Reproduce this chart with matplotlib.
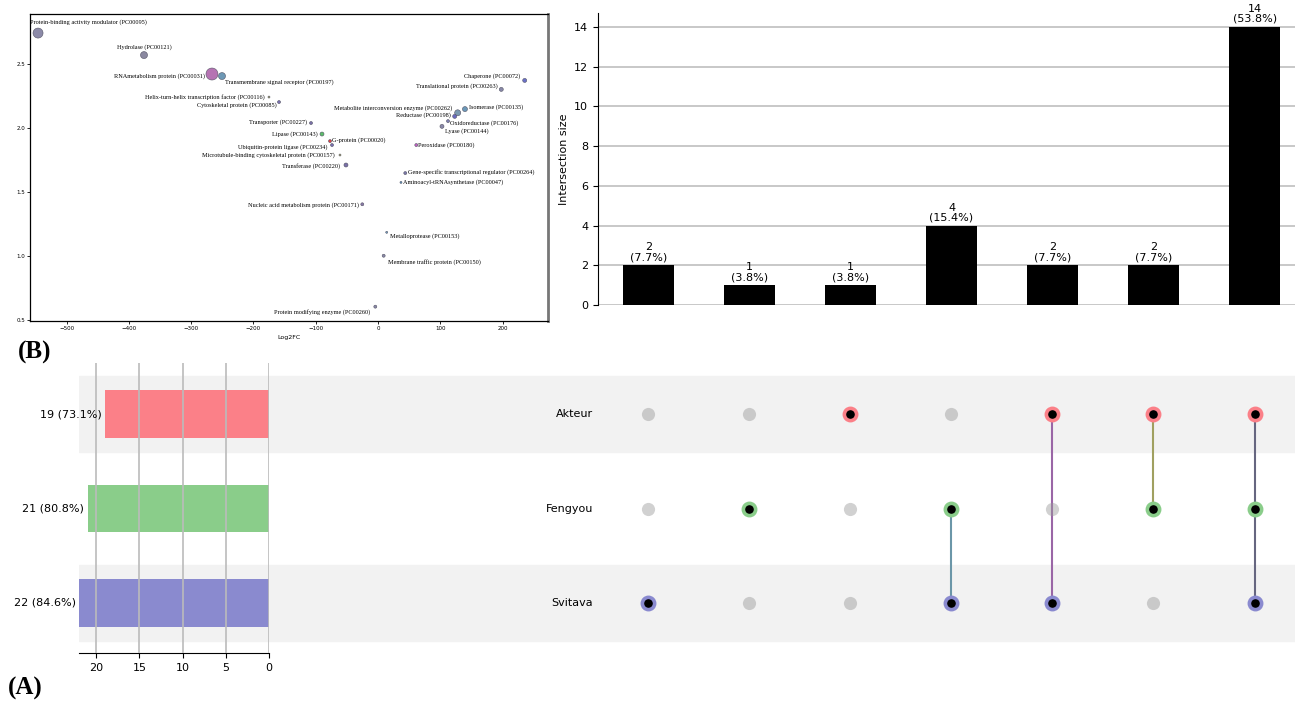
#!/usr/bin/env python3
# -*- coding: utf-8 -*-

import matplotlib
matplotlib.use('Agg')
import matplotlib.pyplot as plt
from matplotlib.patches import Rectangle

W, H = 1295, 702

# ---- scatter panel (protein classes) ----
names = ['Protein-binding activity modulator (PC00095)', 'Hydrolase (PC00121)',
         'RNAmetabolism protein (PC00031)', 'Transmembrane signal receptor (PC00197)',
         'Helix-turn-helix transcription factor (PC00116)', 'Cytoskeletal protein (PC00085)',
         'Transporter (PC00227)', 'Lipase (PC00143)', 'G-protein (PC00020)',
         'Ubiquitin-protein ligase (PC00234)', 'Microtubule-binding cytoskeletal protein (PC00157)',
         'Transferase (PC00220)', 'Chaperone (PC00072)', 'Translational protein (PC00263)',
         'Metabolite interconversion enzyme (PC00262)', 'Reductase (PC00198)',
         'Isomerase (PC00135)', 'Oxidoreductase (PC00176)', 'Lyase (PC00144)',
         'Peroxidase (PC00180)', 'Gene-specific transcriptional regulator (PC00264)',
         'Aminoacyl-tRNAsynthetase (PC00047)', 'Nucleic acid metabolism protein (PC00171)',
         'Metalloprotease (PC00153)', 'Membrane traffic protein (PC00150)',
         'Protein modifying enzyme (PC00260)']
log2fc = [-545.7, -375.6, -266.5, -250.4, -175.0, -158.9, -107.5, -89.9, -77.0, -73.8,
          -61.0, -51.4, 235.5, 197.9, 127.9, 123.1, 139.6, 112.4, 102.7, 61.5, 43.8,
          36.9, -25.2, 14.0, 9.1, -4.3]
yval = [2.740, 2.568, 2.420, 2.404, 2.240, 2.201, 2.037, 1.951, 1.896, 1.865, 1.787,
        1.709, 2.370, 2.300, 2.117, 2.089, 2.146, 2.052, 2.011, 1.865, 1.646, 1.573,
        1.402, 1.183, 1.000, 0.602]
dot_px = [10, 7, 12, 7, 2, 3, 3, 4, 3, 3, 2, 4, 4, 4, 6, 4, 5, 3, 4, 3, 3, 2, 3, 2, 3, 3]
dot_col = ['#8c8aa8', '#8a88a0', '#b673b3', '#6d98b5', '#a8a860', '#7a70b0', '#7a70a8',
           '#5cbf6a', '#e04040', '#7a70b0', '#b0b060', '#7a70a8', '#6a70c8', '#8888a8',
           '#7a98b0', '#6868c0', '#6a98b8', '#8080b0', '#8a88a8', '#c060c0', '#7a78a8',
           '#5a98c0', '#8a78a8', '#70a0c0', '#8a88a8', '#8a88a8']
# label offsets in pixels (dx, dy up) and alignment
lab_off = [(-8, 11, 'left'), (0, 8, 'center'), (-7, -2, 'right'), (3, -6, 'left'),
           (-4, 0, 'right'), (-2, -3, 'right'), (-4, 1, 'right'), (-4, 0, 'right'),
           (2, 1, 'left'), (-5, -2, 'right'), (-5, 0, 'right'), (-6, -1, 'right'),
           (-4, 4, 'right'), (-4, 3, 'right'), (-5, 5, 'right'), (-4, 1, 'right'),
           (4, 2, 'left'), (2, -2, 'left'), (3, -5, 'left'), (2, 0, 'left'),
           (3, 1, 'left'), (2, 0, 'left'), (-3, -1, 'right'), (3, -4, 'left'),
           (4, -6, 'left'), (-5, -5, 'right')]

# ---- upset data ----
sets = ['Akteur', 'Fengyou', 'Svitava']
set_totals = [19, 21, 22]
set_colors = ['#fb8088', '#8acd8a', '#8a8acf']
inter_sizes = [2, 1, 1, 4, 2, 2, 14]
inter_members = [[2], [1], [0], [1, 2], [0, 2], [0, 1], [0, 1, 2]]
line_colors = [None, None, None, '#6b96a8', '#9a66a6', '#a0a060', '#666680']
n_total = 26


def px(l, t, r, b):
    return [l / W, 1 - b / H, (r - l) / W, (b - t) / H]


fig = plt.figure(figsize=(W / 100, H / 100), dpi=100)

# scatter
ax0 = fig.add_axes(px(30, 14, 548, 321))
s = [(d * 0.72) ** 2 for d in dot_px]
ax0.scatter(log2fc, yval, s=s, c=dot_col, edgecolors='#555566', linewidths=0.4, zorder=3)
for i in range(len(names)):
    dx, dy, ha = lab_off[i]
    ax0.annotate(names[i], (log2fc[i], yval[i]), xytext=(dx * 0.72, dy * 0.72),
                 textcoords='offset points', ha=ha, va='center',
                 fontsize=4.5, family='Liberation Serif')
ax0.set_xlim(-558.6, 272.9)
ax0.set_ylim(0.49, 2.889)
ax0.set_xticks([-500, -400, -300, -200, -100, 0, 100, 200])
ax0.set_yticks([0.5, 1.0, 1.5, 2.0, 2.5])
ax0.tick_params(labelsize=4, length=2, width=0.6, pad=1.5)
ax0.set_xlabel('Log2FC', fontsize=4.5, labelpad=3)
for sp in ['left', 'bottom', 'top']:
    ax0.spines[sp].set_linewidth(0.9)
ax0.spines['right'].set_color('#777777')
ax0.spines['right'].set_linewidth(2)

# intersection bars
ax1 = fig.add_axes(px(598, 13, 1295, 305))
xs = list(range(len(inter_sizes)))
ax1.bar(xs, inter_sizes, width=0.5, color='black', zorder=3)
for x, v in zip(xs, inter_sizes):
    ax1.text(x, v + 0.15, '%d\n(%.1f%%)' % (v, 100.0 * v / n_total),
             ha='center', va='bottom', fontsize=8, linespacing=1.0)
ax1.set_xlim(-0.5, 6.4)
ax1.set_ylim(0, 14.7)
ax1.set_yticks(range(0, 15, 2))
ax1.set_xticks([])
ax1.yaxis.grid(True, color='#c4c4c4', linewidth=1.3, zorder=0)
ax1.set_axisbelow(True)
for sp in ['top', 'right', 'bottom']:
    ax1.spines[sp].set_visible(False)
ax1.tick_params(labelsize=8)
ax1.set_ylabel('Intersection size', fontsize=8)

# matrix
ax2 = fig.add_axes(px(79, 367, 1295, 650))
ax2.set_xlim(-5.63, 6.4)
ax2.set_ylim(2.5, -0.5)
for r in range(len(sets)):
    if r % 2 == 0:
        ax2.add_patch(Rectangle((-5.63, r - 0.4), 12.03, 0.8, color='#f2f2f2', zorder=0))
    ax2.text(-0.545, r, sets[r], ha='right', va='center', fontsize=8)
for x, mem in enumerate(inter_members):
    if len(mem) > 1:
        ax2.plot([x, x], [min(mem), max(mem)], color=line_colors[x], lw=1.5, zorder=1)
    for r in range(len(sets)):
        if r in mem:
            ax2.scatter([x], [r], s=78, c='black', edgecolors=set_colors[r],
                        linewidths=2.6, zorder=3)
        else:
            ax2.scatter([x], [r], s=90, c=[(0.6, 0.6, 0.6)], alpha=0.45,
                        linewidths=0, zorder=2)
ax2.axis('off')

# set totals
ax3 = fig.add_axes(px(79, 363, 269, 653))
ax3.patch.set_alpha(0)
ax3.barh(range(len(sets)), set_totals, height=0.5, color=set_colors, zorder=1)
for r, v in enumerate(set_totals):
    ax3.text(v, r, '%d (%.1f%%) ' % (v, 100.0 * v / n_total), ha='right', va='center',
             fontsize=8, clip_on=False)
ax3.set_xlim(22, 0)
ax3.set_ylim(2.53, -0.54)
ax3.set_xticks([20, 15, 10, 5, 0])
ax3.set_yticks([])
ax3.xaxis.grid(True, color='#bbbbbb', linewidth=1.2, zorder=2)
ax3.set_axisbelow(False)
for sp in ['top', 'right', 'left']:
    ax3.spines[sp].set_visible(False)
ax3.tick_params(labelsize=8)

fig.text(18 / W, 1 - 352 / H, '(B)', fontsize=18, fontweight='bold',
         family='Liberation Serif', va='center')
fig.text(8 / W, 1 - 688 / H, '(A)', fontsize=18, fontweight='bold',
         family='Liberation Serif', va='center')

fig.savefig('out.png', dpi=100)
